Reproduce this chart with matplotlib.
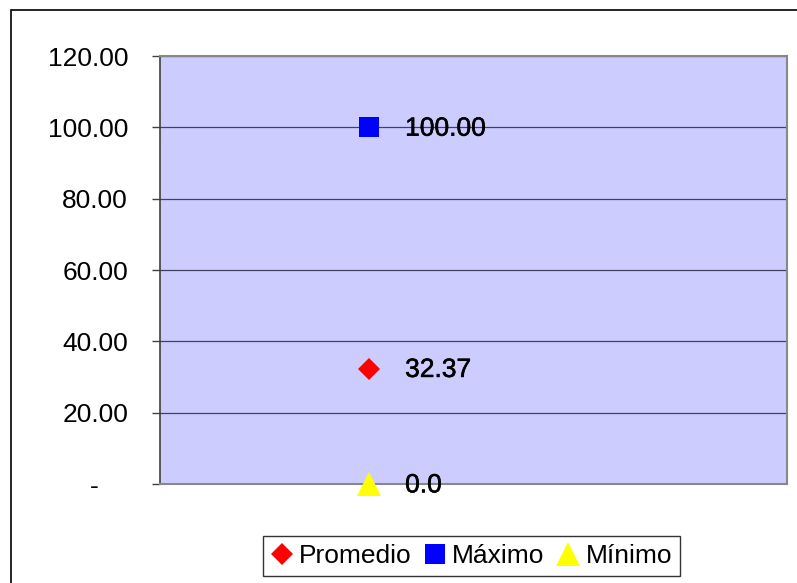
import matplotlib
matplotlib.use("Agg")
import matplotlib.pyplot as plt
import matplotlib.patheffects as pe
from matplotlib.patches import Rectangle

series = ["Promedio", "Máximo", "Mínimo"]
values = [32.37, 100.00, 0.0]
labels = ["32.37", "100.00", "0.0"]
markers = ["D", "s", "^"]
colors = ["#FF0000", "#0000FF", "#FFFF00"]
sizes = [11, 14, 17]
yticks = [0, 20, 40, 60, 80, 100, 120]
yticklabels = ["-    ", "20.00", "40.00", "60.00", "80.00", "100.00", "120.00"]

plt.rcParams['font.family'] = ['Liberation Sans', 'DejaVu Sans']

fig = plt.figure(figsize=(7.97, 5.83), dpi=100)
W, H = 797, 583
fig.patches.append(Rectangle((11 / W, -0.1), 1.2, 1 - 10 / H + 0.1, transform=fig.transFigure,
                             fill=False, edgecolor="black", linewidth=1.2))

ax = fig.add_axes([160 / W, 1 - 484 / H, (787 - 160) / W, (484 - 56) / H])
ax.set_facecolor("#CCCCFF")
ax.set_xlim(0, 3)
ax.set_ylim(0, 120)
ax.set_yticks(yticks)
ax.set_yticklabels(yticklabels, fontsize=19)
ax.set_xticks([])
ax.yaxis.grid(True, color="#404060", linewidth=0.9)
ax.set_axisbelow(True)
for s in ["top", "right", "bottom"]:
    ax.spines[s].set_color("#888888")
    ax.spines[s].set_linewidth(1.5)
ax.spines["left"].set_color("#404040")
ax.spines["left"].set_linewidth(1.2)
ax.tick_params(axis="y", length=6, width=1, color="#404040", pad=17)

handles = []
for name, v, lab, m, c, sz in zip(series, values, labels, markers, colors, sizes):
    h, = ax.plot([1], [v], linestyle="none", marker=m, color=c, markersize=sz,
                 markeredgewidth=0, clip_on=False, label=name, zorder=5)
    handles.append(h)
    ax.annotate(lab, (1, v), xytext=(26, -1), textcoords="offset points",
                va="center", ha="left", fontsize=19, annotation_clip=False,
                path_effects=[pe.withStroke(linewidth=0.4, foreground="black")])

leg = fig.legend(handles=handles, loc="center", bbox_to_anchor=(471.5 / W, 1 - 556 / H),
                 ncol=3, frameon=True, fancybox=False, edgecolor="black", fontsize=19,
                 handlelength=0.8, handletextpad=0.25, columnspacing=0.5, borderpad=0.3,
                 markerscale=1.0)
leg.get_frame().set_linewidth(1.0)

fig.savefig("out.png", dpi=100)
